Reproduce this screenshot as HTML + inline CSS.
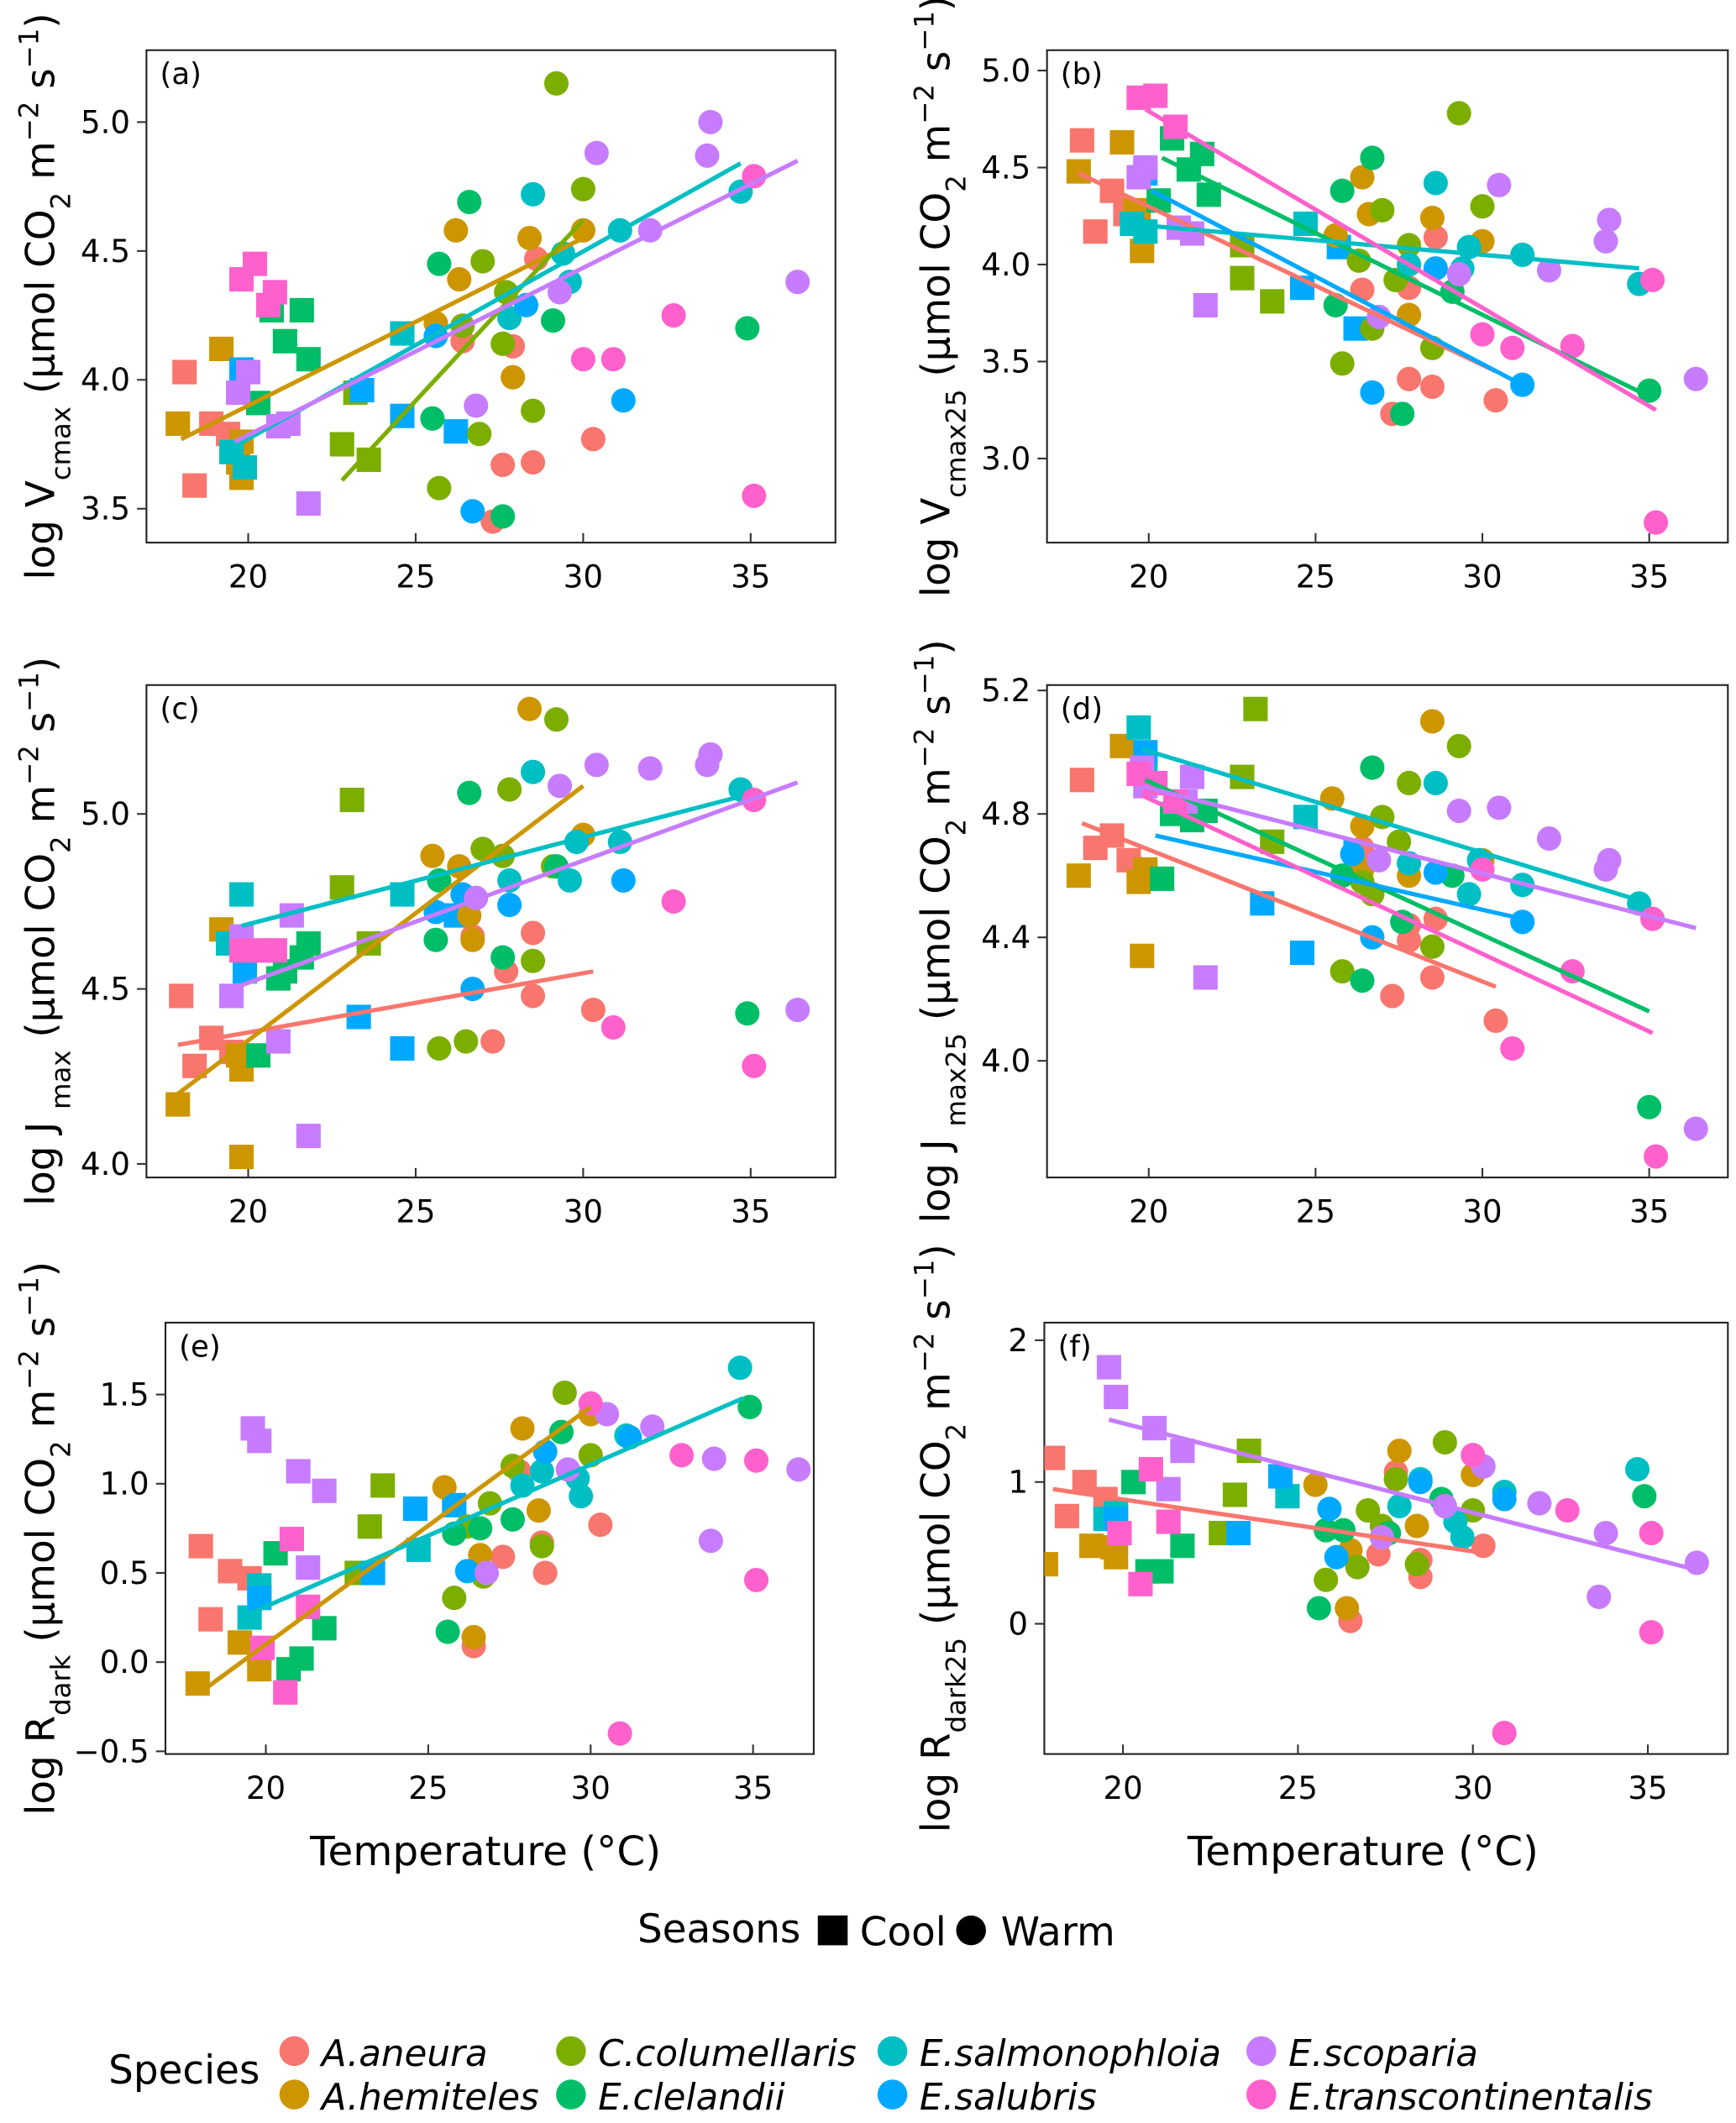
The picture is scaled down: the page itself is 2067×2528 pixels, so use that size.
<!DOCTYPE html>
<html><head><meta charset="utf-8"><style>
html,body{margin:0;padding:0;background:#fff}
svg{display:block}
text{font-family:"DejaVu Sans","Liberation Sans",sans-serif;fill:#000}
</style></head><body>
<svg id="fig" width="2067" height="2528" viewBox="0 0 1280 1565" preserveAspectRatio="none" xmlns="http://www.w3.org/2000/svg"></svg>
<script>
const speciesNames=["A.aneura","A.hemiteles","C.columellaris","E.clelandii","E.salmonophloia","E.salubris","E.scoparia","E.transcontinentalis"];
const speciesColors=["#F8766D","#CD9600","#7CAE00","#00BE67","#00BFC4","#00A9FF","#C77CFF","#FF61CC"];
const xTicks=[20,25,30,35];
const yTicksA=["3.5","4.0","4.5","5.0"];
const yTicksB=["3.0","3.5","4.0","4.5","5.0"];
const yTicksC=["4.0","4.5","5.0"];
const yTicksD=["4.0","4.4","4.8","5.2"];
const yTicksE=["\u22120.5","0.0","0.5","1.0","1.5"];
const yTicksF=["0","1","2"];
// points: [species, season(C=cool/W=warm), temperature, value]
const pointsA=[[0,'C',18.1,4.03],[0,'C',18.4,3.59],[0,'C',18.9,3.83],[0,'C',19.4,3.79],[1,'C',17.9,3.83],[1,'C',19.2,4.12],[1,'C',19.8,3.76],[1,'C',19.8,3.62],[1,'C',19.7,3.68],[2,'C',22.8,3.75],[2,'C',23.6,3.69],[2,'C',23.2,3.95],[3,'C',20.7,4.27],[3,'C',21.6,4.27],[3,'C',21.1,4.15],[3,'C',21.8,4.08],[3,'C',20.3,3.91],[4,'C',19.5,3.72],[4,'C',19.9,3.66],[4,'C',24.6,4.18],[5,'C',19.8,4.04],[5,'C',24.6,3.86],[5,'C',26.2,3.80],[5,'C',23.4,3.96],[6,'C',19.7,3.95],[6,'C',20.0,4.03],[6,'C',21.2,3.83],[6,'C',21.8,3.52],[6,'C',20.9,3.82],[7,'C',19.8,4.39],[7,'C',20.2,4.45],[7,'C',20.8,4.34],[7,'C',20.6,4.29],
[0,'W',26.4,4.15],[0,'W',28.6,4.47],[0,'W',27.9,4.13],[0,'W',27.6,3.67],[0,'W',28.5,3.68],[0,'W',30.3,3.77],[0,'W',27.3,3.45],[1,'W',26.2,4.58],[1,'W',26.3,4.39],[1,'W',28.4,4.55],[1,'W',30.0,4.58],[1,'W',25.6,4.22],[1,'W',27.9,4.01],[2,'W',29.2,5.15],[2,'W',30.0,4.74],[2,'W',27.0,4.46],[2,'W',27.6,4.14],[2,'W',26.9,3.79],[2,'W',25.7,3.58],[2,'W',28.5,3.88],[2,'W',26.4,4.21],[2,'W',27.7,4.34],[3,'W',26.6,4.69],[3,'W',25.7,4.45],[3,'W',29.1,4.23],[3,'W',34.9,4.20],[3,'W',27.6,3.47],[3,'W',25.5,3.85],[4,'W',28.5,4.72],[4,'W',29.6,4.38],[4,'W',29.4,4.49],[4,'W',31.1,4.58],[4,'W',34.7,4.73],[4,'W',27.8,4.24],[5,'W',26.7,3.49],[5,'W',28.3,4.29],[5,'W',31.2,3.92],[5,'W',25.6,4.17],[6,'W',33.8,5.0],[6,'W',33.7,4.87],[6,'W',30.4,4.88],[6,'W',32.0,4.58],[6,'W',36.4,4.38],[6,'W',29.3,4.34],[6,'W',26.8,3.90],[7,'W',35.1,4.79],[7,'W',32.7,4.25],[7,'W',30.0,4.08],[7,'W',30.9,4.08],[7,'W',35.1,3.55]];
const linesA=[[1,18.0,3.77,30.0,4.55],[2,22.8,3.61,30.0,4.62],[4,19.3,3.72,34.7,4.84],[6,19.6,3.76,36.4,4.85]];
const pointsB=[[0,'C',18.0,4.64],[0,'C',18.4,4.17],[0,'C',18.9,4.38],[0,'C',19.3,4.26],[1,'C',17.9,4.48],[1,'C',19.2,4.63],[1,'C',19.7,4.24],[1,'C',19.8,4.07],[1,'C',19.6,4.28],[2,'C',22.8,4.10],[2,'C',23.7,3.81],[2,'C',22.8,3.93],[3,'C',20.7,4.65],[3,'C',21.6,4.57],[3,'C',21.2,4.49],[3,'C',21.8,4.36],[3,'C',20.3,4.33],[4,'C',19.5,4.21],[4,'C',19.9,4.17],[4,'C',24.7,4.21],[5,'C',19.9,4.47],[5,'C',24.6,3.88],[5,'C',26.2,3.67],[5,'C',25.7,4.09],[6,'C',19.7,4.45],[6,'C',19.9,4.50],[6,'C',21.3,4.16],[6,'C',21.7,3.79],[6,'C',20.9,4.19],[7,'C',19.7,4.86],[7,'C',20.2,4.87],[7,'C',20.8,4.71],
[0,'W',26.4,3.87],[0,'W',27.8,3.88],[0,'W',28.5,3.37],[0,'W',27.3,3.23],[0,'W',27.8,3.41],[0,'W',30.4,3.30],[0,'W',28.6,4.14],[1,'W',26.4,4.45],[1,'W',26.6,4.26],[1,'W',28.5,4.24],[1,'W',30.0,4.12],[1,'W',25.6,4.15],[1,'W',27.8,3.74],[2,'W',29.3,4.78],[2,'W',30.0,4.30],[2,'W',27.0,4.28],[2,'W',27.4,3.92],[2,'W',26.7,3.67],[2,'W',25.8,3.49],[2,'W',28.5,3.57],[2,'W',26.3,4.02],[2,'W',27.8,4.10],[3,'W',26.7,4.55],[3,'W',25.8,4.38],[3,'W',29.1,3.86],[3,'W',35.0,3.35],[3,'W',27.6,3.23],[3,'W',25.6,3.79],[4,'W',28.6,4.42],[4,'W',29.6,4.09],[4,'W',29.4,3.98],[4,'W',31.2,4.05],[4,'W',34.7,3.90],[4,'W',27.8,4.0],[5,'W',26.7,3.34],[5,'W',28.6,3.98],[5,'W',31.2,3.38],[6,'W',33.8,4.23],[6,'W',33.7,4.12],[6,'W',30.5,4.41],[6,'W',32.0,3.97],[6,'W',36.4,3.41],[6,'W',29.3,3.95],[6,'W',26.9,3.73],[7,'W',35.1,3.92],[7,'W',32.7,3.58],[7,'W',30.0,3.64],[7,'W',30.9,3.57],[7,'W',35.2,2.67]];
const linesB=[[0,17.9,4.47,30.4,3.45],[3,20.4,4.55,35.0,3.32],[4,19.3,4.21,34.7,3.98],[5,20.1,4.38,31.3,3.37],[7,19.9,4.80,35.2,3.25]];
const pointsC=[[0,'C',18.0,4.48],[0,'C',18.4,4.28],[0,'C',18.9,4.36],[0,'C',19.5,4.32],[1,'C',17.9,4.17],[1,'C',19.2,4.67],[1,'C',19.8,4.27],[1,'C',19.8,4.02],[1,'C',19.7,4.31],[2,'C',23.1,5.04],[2,'C',22.8,4.79],[2,'C',23.6,4.63],[3,'C',20.3,4.31],[3,'C',21.8,4.63],[3,'C',21.6,4.59],[3,'C',21.1,4.55],[3,'C',20.9,4.53],[4,'C',19.8,4.77],[4,'C',19.4,4.63],[4,'C',24.6,4.77],[5,'C',19.9,4.55],[5,'C',23.3,4.42],[5,'C',24.6,4.33],[5,'C',26.2,4.71],[6,'C',19.5,4.48],[6,'C',19.8,4.65],[6,'C',21.3,4.71],[6,'C',21.8,4.08],[6,'C',20.9,4.35],[7,'C',19.8,4.61],[7,'C',20.3,4.61],[7,'C',20.8,4.61],[7,'C',20.5,4.61],
[0,'W',27.7,4.55],[0,'W',28.5,4.48],[0,'W',30.3,4.44],[0,'W',27.3,4.35],[0,'W',28.5,4.66],[0,'W',26.7,4.65],[1,'W',28.4,5.30],[1,'W',25.5,4.88],[1,'W',30.0,4.94],[1,'W',26.3,4.85],[1,'W',26.6,4.71],[1,'W',26.7,4.64],[2,'W',29.2,5.27],[2,'W',27.8,5.07],[2,'W',27.0,4.90],[2,'W',27.6,4.88],[2,'W',28.5,4.58],[2,'W',25.7,4.33],[2,'W',26.5,4.35],[2,'W',29.1,4.85],[3,'W',26.6,5.06],[3,'W',25.6,4.64],[3,'W',27.6,4.59],[3,'W',34.9,4.43],[3,'W',25.7,4.81],[3,'W',29.2,4.85],[4,'W',28.5,5.12],[4,'W',29.6,4.81],[4,'W',29.8,4.92],[4,'W',31.1,4.92],[4,'W',34.7,5.07],[4,'W',27.8,4.81],[5,'W',26.7,4.50],[5,'W',27.8,4.74],[5,'W',31.2,4.81],[5,'W',25.6,4.72],[5,'W',26.4,4.77],[6,'W',33.8,5.17],[6,'W',33.7,5.14],[6,'W',30.4,5.14],[6,'W',32.0,5.13],[6,'W',36.4,4.44],[6,'W',29.3,5.08],[6,'W',26.8,4.76],[7,'W',35.1,5.04],[7,'W',32.7,4.75],[7,'W',30.9,4.39],[7,'W',35.1,4.28]];
const linesC=[[0,17.9,4.34,30.3,4.55],[1,17.9,4.20,30.0,5.08],[4,19.8,4.68,34.7,5.05],[6,19.5,4.50,36.4,5.09]];
const pointsD=[[0,'C',18.0,4.91],[0,'C',18.4,4.69],[0,'C',18.9,4.73],[0,'C',19.4,4.65],[1,'C',17.9,4.60],[1,'C',19.2,5.02],[1,'C',19.8,4.34],[1,'C',19.7,4.58],[1,'C',19.9,4.62],[2,'C',23.2,5.14],[2,'C',22.8,4.92],[2,'C',23.7,4.71],[3,'C',20.4,4.59],[3,'C',21.3,4.78],[3,'C',21.7,4.81],[3,'C',20.7,4.80],[4,'C',19.7,5.08],[4,'C',19.9,4.95],[4,'C',24.7,4.79],[5,'C',19.9,5.0],[5,'C',23.4,4.51],[5,'C',24.6,4.35],[5,'C',26.2,4.68],[6,'C',19.8,4.95],[6,'C',19.9,4.89],[6,'C',21.3,4.92],[6,'C',21.7,4.27],[6,'C',21.1,4.84],[7,'C',19.7,4.93],[7,'C',20.2,4.90],[7,'C',20.8,4.84],
[0,'W',26.4,4.69],[0,'W',27.8,4.39],[0,'W',28.5,4.27],[0,'W',27.3,4.21],[0,'W',27.8,4.44],[0,'W',30.4,4.13],[0,'W',28.6,4.46],[1,'W',25.5,4.85],[1,'W',26.4,4.76],[1,'W',28.5,5.10],[1,'W',30.0,4.65],[1,'W',26.4,4.62],[1,'W',27.8,4.60],[2,'W',29.3,5.02],[2,'W',27.8,4.90],[2,'W',27.0,4.79],[2,'W',27.5,4.71],[2,'W',26.7,4.54],[2,'W',25.8,4.29],[2,'W',28.5,4.37],[2,'W',26.4,4.58],[3,'W',26.7,4.95],[3,'W',25.8,4.60],[3,'W',29.1,4.60],[3,'W',35.0,3.85],[3,'W',26.4,4.26],[3,'W',27.6,4.45],[4,'W',28.6,4.90],[4,'W',29.6,4.54],[4,'W',29.9,4.65],[4,'W',31.2,4.57],[4,'W',34.7,4.51],[4,'W',27.8,4.64],[5,'W',26.7,4.40],[5,'W',28.6,4.61],[5,'W',31.2,4.45],[5,'W',26.1,4.67],[6,'W',33.8,4.65],[6,'W',33.7,4.62],[6,'W',30.5,4.82],[6,'W',32.0,4.72],[6,'W',36.4,3.78],[6,'W',29.3,4.81],[6,'W',26.9,4.65],[7,'W',35.1,4.46],[7,'W',32.7,4.29],[7,'W',30.0,4.62],[7,'W',30.9,4.04],[7,'W',35.2,3.69]];
const linesD=[[0,18.0,4.77,30.4,4.24],[3,19.9,4.91,35.0,4.16],[4,19.8,5.01,34.7,4.52],[5,20.2,4.73,31.2,4.46],[6,19.8,4.89,36.4,4.43],[7,19.8,4.86,35.1,4.09]];
const pointsE=[[0,'C',18.0,0.65],[0,'C',18.3,0.24],[0,'C',18.9,0.51],[0,'C',19.5,0.47],[1,'C',17.9,-0.12],[1,'C',19.2,0.11],[1,'C',19.8,-0.04],[1,'C',19.8,0.05],[2,'C',22.8,0.50],[2,'C',23.2,0.76],[2,'C',23.6,0.99],[3,'C',20.3,0.61],[3,'C',20.7,-0.04],[3,'C',21.1,0.02],[3,'C',21.8,0.19],[4,'C',19.5,0.25],[4,'C',19.8,0.43],[4,'C',24.7,0.63],[5,'C',19.8,0.36],[5,'C',23.3,0.50],[5,'C',24.6,0.86],[5,'C',25.8,0.88],[6,'C',19.6,1.31],[6,'C',19.8,1.24],[6,'C',21.0,1.07],[6,'C',21.8,0.96],[6,'C',21.3,0.53],[7,'C',19.9,0.08],[7,'C',20.6,-0.17],[7,'C',20.8,0.69],[7,'C',21.3,0.31],
[0,'W',26.4,0.09],[0,'W',27.3,0.59],[0,'W',27.8,1.07],[0,'W',28.5,0.67],[0,'W',28.6,0.50],[0,'W',30.3,0.77],[1,'W',25.5,0.98],[1,'W',27.9,1.31],[1,'W',28.4,0.85],[1,'W',30.0,1.39],[1,'W',26.4,0.14],[1,'W',26.6,0.60],[2,'W',29.2,1.51],[2,'W',27.6,1.10],[2,'W',26.9,0.89],[2,'W',25.8,0.36],[2,'W',26.7,0.48],[2,'W',28.5,0.65],[2,'W',30.0,1.16],[2,'W',26.2,0.76],[3,'W',25.6,0.17],[3,'W',26.6,0.75],[3,'W',29.1,1.29],[3,'W',34.9,1.43],[3,'W',27.6,0.80],[3,'W',25.8,0.72],[4,'W',28.5,1.07],[4,'W',29.7,0.93],[4,'W',29.6,1.03],[4,'W',31.1,1.27],[4,'W',34.6,1.65],[4,'W',27.9,0.99],[5,'W',26.2,0.51],[5,'W',28.6,1.18],[5,'W',31.2,1.26],[5,'W',25.8,0.88],[6,'W',33.7,0.68],[6,'W',33.8,1.14],[6,'W',30.5,1.39],[6,'W',31.9,1.32],[6,'W',36.4,1.08],[6,'W',29.3,1.08],[6,'W',26.8,0.50],[7,'W',35.1,0.46],[7,'W',32.8,1.16],[7,'W',30.0,1.45],[7,'W',30.9,-0.40],[7,'W',35.1,1.13]];
const linesE=[[1,17.9,-0.18,30.0,1.43],[4,19.6,0.28,34.7,1.48]];
const pointsF=[[0,'C',18.0,1.17],[0,'C',18.4,0.76],[0,'C',18.9,1.00],[0,'C',19.5,0.88],[1,'C',17.8,0.42],[1,'C',19.1,0.55],[1,'C',19.8,0.47],[1,'C',19.7,0.54],[2,'C',22.8,0.64],[2,'C',23.2,0.91],[2,'C',23.6,1.22],[3,'C',20.3,1.0],[3,'C',20.7,0.37],[3,'C',21.1,0.37],[3,'C',21.7,0.55],[4,'C',19.5,0.74],[4,'C',19.8,0.78],[4,'C',24.7,0.90],[5,'C',19.8,0.74],[5,'C',23.3,0.64],[5,'C',24.5,1.04],[6,'C',19.6,1.81],[6,'C',19.8,1.60],[6,'C',20.9,1.38],[6,'C',21.7,1.22],[6,'C',21.3,0.95],[7,'C',19.9,0.64],[7,'C',20.5,0.28],[7,'C',20.8,1.09],[7,'C',21.3,0.72],
[0,'W',26.5,0.02],[0,'W',27.3,0.49],[0,'W',27.8,1.07],[0,'W',28.5,0.45],[0,'W',28.5,0.33],[0,'W',30.3,0.55],[1,'W',25.5,0.98],[1,'W',27.9,1.22],[1,'W',28.4,0.69],[1,'W',30.0,1.05],[1,'W',26.4,0.11],[1,'W',26.5,0.52],[2,'W',29.2,1.28],[2,'W',27.8,1.02],[2,'W',27.0,0.80],[2,'W',25.8,0.31],[2,'W',26.7,0.40],[2,'W',28.4,0.42],[2,'W',30.0,0.80],[2,'W',27.4,0.69],[3,'W',25.6,0.11],[3,'W',26.3,0.66],[3,'W',29.1,0.88],[3,'W',34.9,0.90],[3,'W',27.6,0.64],[3,'W',25.8,0.66],[4,'W',28.5,1.02],[4,'W',29.7,0.61],[4,'W',29.5,0.72],[4,'W',30.9,0.93],[4,'W',34.7,1.09],[4,'W',27.9,0.83],[5,'W',25.9,0.81],[5,'W',28.5,1.0],[5,'W',30.9,0.88],[5,'W',26.1,0.47],[6,'W',33.6,0.19],[6,'W',33.8,0.64],[6,'W',30.3,1.11],[6,'W',31.9,0.85],[6,'W',36.4,0.43],[6,'W',29.2,0.83],[6,'W',27.4,0.61],[7,'W',35.1,-0.06],[7,'W',32.7,0.80],[7,'W',30.0,1.19],[7,'W',30.9,-0.77],[7,'W',35.1,0.64]];
const linesF=[[0,18.0,0.95,30.3,0.50],[6,19.6,1.44,36.4,0.38]];

const NS="http://www.w3.org/2000/svg";
const svg=document.getElementById('fig');
function mk(tag,attrs,parent){const e=document.createElementNS(NS,tag);for(const k in attrs)e.setAttribute(k,attrs[k]);(parent||svg).appendChild(e);return e;}

const panels=[
 {id:'a',fx:108,fy:37,fw:508,fh:363,x20:183,pxPerC:24.7,yRef:5.0,yRefPx:90,pxPerY:190,ticks:yTicksA,pts:pointsA,lines:linesA,lab:'(a)',ylabel:['log V','cmax'],ylx:30},
 {id:'b',fx:772,fy:37,fw:502,fh:363,x20:847,pxPerC:24.6,yRef:5.0,yRefPx:52,pxPerY:143,ticks:yTicksB,pts:pointsB,lines:linesB,lab:'(b)',ylabel:['log V','cmax25'],ylx:690},
 {id:'c',fx:108,fy:505,fw:508,fh:363,x20:183,pxPerC:24.7,yRef:5.0,yRefPx:600,pxPerY:258,ticks:yTicksC,pts:pointsC,lines:linesC,lab:'(c)',ylabel:['log J ','max'],ylx:30},
 {id:'d',fx:772,fy:505,fw:502,fh:363,x20:847,pxPerC:24.6,yRef:5.2,yRefPx:509,pxPerY:227.5,ticks:yTicksD,pts:pointsD,lines:linesD,lab:'(d)',ylabel:['log J ','max25'],ylx:690},
 {id:'e',fx:122,fy:975,fw:478,fh:318,x20:196,pxPerC:23.95,yRef:1.5,yRefPx:1028,pxPerY:131.5,ticks:yTicksE,pts:pointsE,lines:linesE,lab:'(e)',ylabel:['log R','dark'],ylx:30},
 {id:'f',fx:770,fy:975,fw:504,fh:318,x20:828,pxPerC:25.8,yRef:2,yRefPx:988,pxPerY:104.5,ticks:yTicksF,pts:pointsF,lines:linesF,lab:'(f)',ylabel:['log R','dark25'],ylx:690}
];

panels.forEach(p=>{
 const g=mk('g',{});
 
 
 const X=t=>p.x20+(t-20)*p.pxPerC;
 const Y=v=>p.yRefPx+(p.yRef-v)*p.pxPerY;
 const fr=mk('rect',{x:p.fx,y:p.fy,width:p.fw,height:p.fh,fill:'none',stroke:'#222','stroke-width':1.3},g);
 
 
 xTicks.forEach(t=>{
  const x=X(t);
  const l=mk('line',{x1:x,x2:x,y1:p.fy+p.fh,y2:p.fy+p.fh-7,stroke:'#333','stroke-width':1.3},g);
  
  
  const tx=mk('text',{x:x,y:p.fy+p.fh+33,'text-anchor':'middle','font-size':23},g);
  tx.textContent=t;
  
  
 });
 p.ticks.forEach(s=>{
  const v=parseFloat(s.replace('\u2212','-'));
  const y=Y(v);
  const l=mk('line',{x1:p.fx,x2:p.fx-7,y1:y,y2:y,stroke:'#333','stroke-width':1.3},g);
  
  
  const tx=mk('text',{x:p.fx-12,y:y+8,'text-anchor':'end','font-size':23},g);
  tx.textContent=s;
  
  
 });
 const pl=mk('text',{x:p.fx+10,y:p.fy+25,'font-size':22},g);
 pl.textContent=p.lab;
 
 
 const cy=p.fy+p.fh/2;
 const yl=mk('text',{x:0,y:0,'text-anchor':'middle','font-size':29,transform:`translate(${p.ylx+10},${cy}) rotate(-90)`},g);
 
 
 const parts=[[p.ylabel[0],0],[p.ylabel[1],-1],[' (\u00b5mol CO',0],['2',-1],[' m',0],['\u22122',1],[' s',0],['\u22121',1],[')',0]];
 parts.forEach(([t,k])=>{
  const ts=mk('tspan',{},yl);
  if(k!==0){ts.setAttribute('font-size',20);ts.setAttribute('baseline-shift',k>0?'super':'sub');}
  ts.textContent=t;
 });
 const cp=mk('clipPath',{id:'clip'+p.id},g);
 mk('rect',{x:p.fx,y:p.fy,width:p.fw,height:p.fh},cp);
 const pg=mk('g',{'clip-path':`url(#clip${p.id})`},g);
 p.pts.forEach(([s,se,t,v])=>{
  let e;
  if(se==='C'){e=mk('rect',{x:X(t)-9,y:Y(v)-9,width:18,height:18,fill:speciesColors[s]},pg);}
  else {e=mk('circle',{cx:X(t),cy:Y(v),r:9,fill:speciesColors[s]},pg);}
  
  
 });
 p.lines.forEach(([s,x1,y1,x2,y2])=>{
  const l=mk('line',{x1:X(x1),y1:Y(y1),x2:X(x2),y2:Y(y2),stroke:speciesColors[s],'stroke-width':3.2},pg);
  
  
 });
});

[[358,'e'],[1005,'f']].forEach(([x,id])=>{
 const t=mk('text',{x:x,y:1375,'text-anchor':'middle','font-size':30});
 t.textContent='Temperature (\u00b0C)';
 
 
});

const sl=mk('g',{});


let t=mk('text',{x:470,y:1432,'font-size':29},sl);t.textContent='Seasons';


let e=mk('rect',{x:603,y:1412,width:22,height:22,fill:'#000'},sl);


t=mk('text',{x:634,y:1434,'font-size':29},sl);t.textContent='Cool';


e=mk('circle',{cx:716,cy:1423,r:11,fill:'#000'},sl);


t=mk('text',{x:738,y:1434,'font-size':29},sl);t.textContent='Warm';



const spl=mk('g',{});


t=mk('text',{x:80,y:1536,'font-size':29},spl);t.textContent='Species';


const colX=[217,421,658,930];
const rowY=[1512,1544];
const order=[0,2,4,6,1,3,5,7];
order.forEach((s,i)=>{
 const c=i%4,r=Math.floor(i/4);
 const m=mk('circle',{cx:colX[c],cy:rowY[r],r:11,fill:speciesColors[s]},spl);
 
 
 const tt=mk('text',{x:colX[c]+20,y:rowY[r]+11,'font-size':27,'font-style':'italic'},spl);
 tt.textContent=speciesNames[s];
 
 
});
</script>
</body></html>
